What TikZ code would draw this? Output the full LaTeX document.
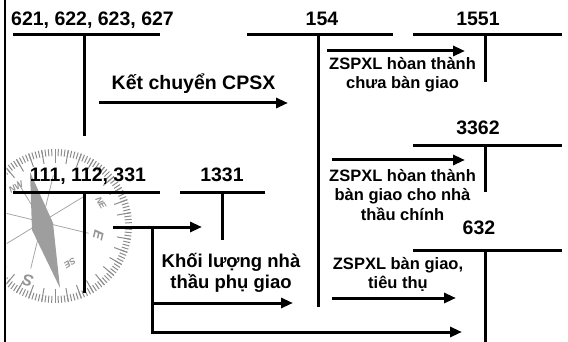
\documentclass[tikz,border=0pt]{standalone}
\usepackage{fontspec}
\setmainfont{Liberation Sans}
\usetikzlibrary{arrows.meta,calc}
\begin{document}
\begin{tikzpicture}[x=1pt,y=1pt,
  acct/.style={line width=3pt},
  flow/.style={line width=3pt,-{Triangle[length=12pt,width=10pt]}},
  code/.style={font=\fontsize{19.5}{22}\selectfont\bfseries,inner sep=0pt,anchor=base},
  flowlbl/.style={font=\fontsize{19.5}{22}\selectfont\bfseries,inner sep=0pt,anchor=base},
  note/.style={font=\fontsize{16.5}{19.5}\selectfont\bfseries,inner sep=0pt,anchor=north,align=center},
  bignote/.style={font=\fontsize{18.5}{21}\selectfont\bfseries,inner sep=0pt,anchor=north,align=center},
  gradmark/.style={black!45,line width=1pt},
  roselbl/.style={text=black!42,font=\fontsize{14}{14}\selectfont\bfseries\itshape,inner sep=0pt},
  smallrose/.style={roselbl,font=\fontsize{9}{9}\selectfont\bfseries\itshape}
]
\useasboundingbox (0,0) rectangle (568,-342);

% ---- faint compass in the background ----
\begin{scope}
  \clip (6.5,0) rectangle (568,-342);
  % rim graduation: short marks every 2.5 degrees, long ones every 10
  \begin{scope}[shift={(55pt,-226pt)}]
    \foreach \a in {0,2.5,...,357.5}{
      \draw[gradmark] (\a:70pt) -- (\a:77pt);
    }
    \foreach \a in {0,10,...,350}{
      \draw[gradmark] (\a:63pt) -- (\a:77pt);
    }
  \end{scope}
  \coordinate (rc) at (42,-222);
  \foreach \a in {-13.6,31.4,...,300}{
    \draw[black!35,line width=0.8pt] (rc) -- ($(rc)+(\a:48)$);
  }
  \node[roselbl,rotate=-103.6] (cE)  at ($(rc)+(-13.6:58)$) {E};
  \node[roselbl,rotate=-193.6,font=\fontsize{16}{16}\selectfont\bfseries\itshape] (cS)  at ($(rc)+(-103.6:60)$) {S};
  \node[smallrose,rotate=-148.6] (cSE) at ($(rc)+(-56:50)$) {SE};
  \node[smallrose,rotate=31.4]  (cNW) at (16,-187) {NW};
  \node[smallrose,rotate=-58.6] (cNE) at (101,-203) {NE};
  \fill[black!38] (30,-172) -- (53,-223) -- (60,-288) -- (32,-230) -- cycle;
\end{scope}

% ---- left rule ----
\coordinate (edgeT) at (5,0);
\coordinate (edgeB) at (5,-342);
\draw[line width=2.5pt] (edgeT) -- (edgeB);

% ---- T-accounts ----
\node[code] (t621) at (92.5,-26) {621, 622, 623, 627};
\coordinate (t621l) at (13,-35);  \coordinate (t621r) at (160,-35);
\coordinate (t621t) at (84,-35);  \coordinate (t621b) at (84,-136);
\draw[acct] (t621l) -- (t621r) (t621t) -- (t621b);

\node[code] (t154) at (322,-26) {154};
\coordinate (t154l) at (247,-35); \coordinate (t154r) at (393,-35);
\coordinate (t154t) at (318,-35); \coordinate (t154b) at (318,-307);
\draw[acct] (t154l) -- (t154r) (t154t) -- (t154b);

\node[code] (t1551) at (478,-26) {1551};
\coordinate (t1551l) at (413,-35); \coordinate (t1551r) at (562,-35);
\coordinate (t1551t) at (485,-35); \coordinate (t1551b) at (485,-82);
\draw[acct] (t1551l) -- (t1551r) (t1551t) -- (t1551b);

\node[code] (t3362) at (478,-135) {3362};
\coordinate (t3362l) at (413,-146); \coordinate (t3362r) at (562,-146);
\coordinate (t3362t) at (485,-146); \coordinate (t3362b) at (485,-192);
\draw[acct] (t3362l) -- (t3362r) (t3362t) -- (t3362b);

\node[code] (t632) at (479,-234) {632};
\coordinate (t632l) at (413,-250); \coordinate (t632r) at (562,-250);
\coordinate (t632t) at (485,-250); \coordinate (t632b) at (485,-342);
\draw[acct] (t632l) -- (t632r) (t632t) -- (t632b);

\node[code] (t111) at (88,-182) {111, 112, 331};
\coordinate (t111l) at (13,-193); \coordinate (t111r) at (160,-193);
\coordinate (t111t) at (84,-193); \coordinate (t111b) at (84,-293);
\draw[acct] (t111l) -- (t111r) (t111t) -- (t111b);

\node[code] (t1331) at (222,-182) {1331};
\coordinate (t1331l) at (180,-193); \coordinate (t1331r) at (265,-193);
\coordinate (t1331t) at (222,-193); \coordinate (t1331b) at (222,-240);
\draw[acct] (t1331l) -- (t1331r) (t1331t) -- (t1331b);

% ---- postings ----
\coordinate (k1) at (99,-103); \coordinate (k2) at (288,-103);
\draw[flow] (k1) -- (k2);
\node[flowlbl] (lk) at (193.5,-90) {Kết chuyển CPSX};

\coordinate (a1) at (327,-51); \coordinate (a2) at (465,-51);
\draw[flow] (a1) -- (a2);
\node[note] (la) at (402.5,-57) {ZSPXL hòan thành\\chưa bàn giao};

\coordinate (b1) at (332,-160); \coordinate (b2) at (465,-160);
\draw[flow] (b1) -- (b2);
\node[note] (lb) at (402.5,-169) {ZSPXL hòan thành\\bàn giao cho nhà\\thầu chính};

\coordinate (c1) at (332,-298); \coordinate (c2) at (456,-298);
\draw[flow] (c1) -- (c2);
\node[note] (lc) at (398,-257) {ZSPXL bàn giao,\\tiêu thụ};

\coordinate (p1) at (113,-227); \coordinate (p2) at (202,-227);
\draw[flow] (p1) -- (p2);
\coordinate (j) at (152,-227); \coordinate (jb) at (152,-332);
\coordinate (r2) at (462,-332);
\draw[flow] (j) -- (jb) -- (r2);
\coordinate (q1) at (152,-303); \coordinate (q2) at (293,-303);
\draw[flow] (q1) -- (q2);
\node[bignote] (lq) at (231,-253) {Khối lượng nhà\\thầu phụ giao};

\end{tikzpicture}
\end{document}
